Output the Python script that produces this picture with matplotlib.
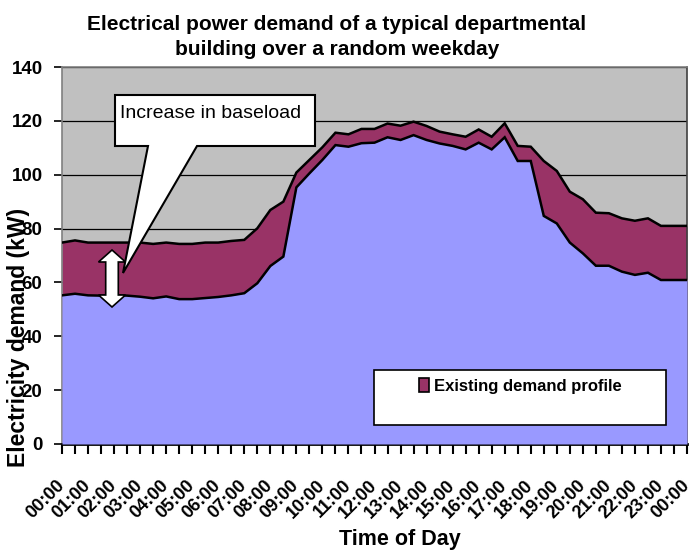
import matplotlib
matplotlib.use("Agg")
import matplotlib.pyplot as plt
from matplotlib import font_manager
from matplotlib.patches import Polygon, Rectangle, Patch
from matplotlib.ticker import MultipleLocator

# ---------------- data ----------------
hours = [i * 0.5 for i in range(49)]  # half-hourly, 00:00 .. 24:00
baseline_kw = [55.2, 55.8, 55.2, 55.1, 55.3, 55.1, 54.7, 54.1, 54.8, 53.8,
               53.8, 54.2, 54.6, 55.2, 56.0, 59.7, 66.1, 69.6, 95.3, 100.5,
               105.5, 111.0, 110.4, 111.7, 111.9, 113.9, 112.9, 114.7, 112.9, 111.6,
               110.7, 109.4, 111.9, 109.4, 113.9, 105.1, 105.1, 84.7, 81.9, 74.8,
               70.8, 66.2, 66.2, 64.0, 62.8, 63.6, 60.9, 60.9, 60.9]
existing_kw = [74.8, 75.6, 74.8, 74.8, 74.8, 74.8, 74.8, 74.3, 74.8, 74.3,
               74.3, 74.8, 74.8, 75.4, 75.8, 80.1, 86.9, 90.0, 100.8, 105.5,
               110.2, 115.6, 115.0, 117.0, 117.0, 119.0, 118.2, 119.7, 118.1, 116.0,
               115.0, 114.1, 116.8, 114.1, 119.1, 110.7, 110.4, 105.1, 101.4, 93.7,
               90.9, 85.9, 85.7, 83.8, 82.9, 83.8, 81.0, 81.0, 81.0]
xtick_labels = ["%02d:00" % (h % 24) for h in range(25)]
yticks = [0, 20, 40, 60, 80, 100, 120, 140]
title = "Electrical power demand of a typical departmental\nbuilding over a random weekday"
legend_label = "Existing demand profile"
callout_text = "Increase in baseload"

# ---------------- fonts ----------------
avail = {f.name for f in font_manager.fontManager.ttflist}
narrow = "Liberation Sans Narrow" if "Liberation Sans Narrow" in avail else "Liberation Sans"
plt.rcParams["font.family"] = [narrow, "DejaVu Sans"]

W, H = 689, 553
fig = plt.figure(figsize=(W / 100, H / 100), dpi=100)
L, R, T, B = 62, 687, 67, 444
ax = fig.add_axes([L / W, 1 - B / H, (R - L) / W, (B - T) / H])

def af(px, py):
    """pixel -> axes fraction"""
    return ((px - L) / (R - L), (B - py) / (B - T))

purple = "#993366"
blue = "#9999FF"
ax.set_facecolor("#C0C0C0")
ax.fill_between(hours, 0, existing_kw, color=purple, lw=0, zorder=2)
ax.fill_between(hours, 0, baseline_kw, color=blue, lw=0, zorder=3)
ax.plot(hours, existing_kw, color="black", lw=1.8, zorder=4, solid_joinstyle="miter")
ax.plot(hours, baseline_kw, color="black", lw=1.8, zorder=4, solid_joinstyle="miter")

ax.set_xlim(0, 24)
ax.set_ylim(0, 140)
ax.set_yticks(yticks)
ax.set_yticklabels([str(v) for v in yticks])
ax.yaxis.grid(True, color="black", lw=0.9)
ax.set_axisbelow(True)

ax.set_xticks(range(25))
ax.xaxis.set_minor_locator(MultipleLocator(0.5))
ax.set_xticklabels(xtick_labels)
for lab in ax.get_xticklabels():
    lab.set_rotation(45)
    lab.set_ha("right")
    lab.set_va("center")
    lab.set_rotation_mode("anchor")
    lab.set_fontsize(13)
    lab.set_fontweight("bold")
ax.tick_params(axis="x", which="both", direction="out", length=7, width=1.5, color="black")
ax.tick_params(axis="x", which="major", pad=21)
ax.tick_params(axis="y", direction="out", length=6, width=1.2, pad=8, labelsize=13.5)
for lab in ax.get_yticklabels():
    lab.set_fontweight("bold")

for s in ("left", "top"):
    ax.spines[s].set_color("#808080")
    ax.spines[s].set_linewidth(1.2)
ax.spines["right"].set_color("#404040")
ax.spines["right"].set_linewidth(1.2)
ax.spines["bottom"].set_color("black")
ax.spines["bottom"].set_linewidth(2)

ax.set_ylabel("Electricity demand (kW)", fontsize=16.5, fontweight="bold", va="center")
ax.yaxis.set_label_coords(*af(19, 337))
ax.set_xlabel("Time of Day", fontsize=15.5, fontweight="bold", va="center")
ax.xaxis.set_label_coords(*af(400, 540))

fig.text(337 / W, 1 - 37 / H, title, ha="center", va="center", fontsize=15,
         fontweight="bold", linespacing=1.45)

# ---- callout ----
bl, br, bt, bb = 115, 315, 95, 146
pts = [af(bl, bt), af(br, bt), af(br, bb), af(197, bb), af(123, 273),
       af(148, bb), af(bl, bb)]
ax.add_patch(Polygon(pts, closed=True, transform=ax.transAxes, facecolor="white",
                     edgecolor="black", lw=1.5, zorder=6, joinstyle="miter"))
ax.text(*af(120, 113), callout_text, transform=ax.transAxes, ha="left", va="center",
        fontsize=14, zorder=7)

# ---- double arrow ----
cx, top, bot = 112, 250, 307
hw, sw, hl = 13.5, 6.3, 12
arr = [(cx, top), (cx + hw, top + hl), (cx + sw, top + hl), (cx + sw, bot - hl),
       (cx + hw, bot - hl), (cx, bot), (cx - hw, bot - hl), (cx - sw, bot - hl),
       (cx - sw, top + hl), (cx - hw, top + hl)]
ax.add_patch(Polygon([af(x, y) for x, y in arr], closed=True, transform=ax.transAxes,
                     facecolor="white", edgecolor="black", lw=1.2, zorder=6))

# ---- legend ----
x0, y0 = af(374, 425)
x1, y1 = af(666, 370)
ax.add_patch(Rectangle((x0, y0), x1 - x0, y1 - y0, transform=ax.transAxes,
                       facecolor="white", edgecolor="black", lw=1.2, zorder=6))
handle = Patch(facecolor=purple, edgecolor="black", lw=1.2)
leg = ax.legend([handle], [legend_label], loc="center left",
                bbox_to_anchor=af(419, 386), frameon=False, fontsize=12,
                handlelength=0.6, handleheight=0.9, handletextpad=0.3,
                borderaxespad=0, borderpad=0)
leg.set_zorder(7)
for t in leg.get_texts():
    t.set_fontweight("bold")

fig.savefig("out.png", dpi=100)
